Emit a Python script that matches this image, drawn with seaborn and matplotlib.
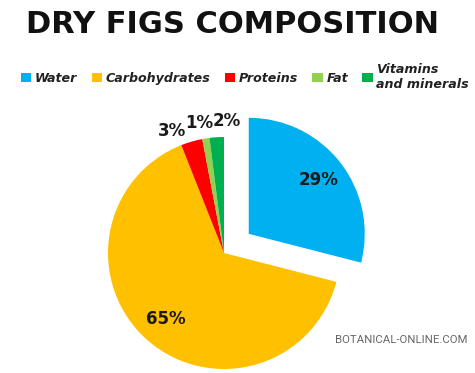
import numpy as np
import matplotlib
matplotlib.use("Agg")
import matplotlib.pyplot as plt
import seaborn as sns

categories = ["Water", "Carbohydrates", "Proteins", "Fat", "Vitamins\nand minerals"]
shares = [29, 65, 3, 1, 2]
colors = ["#00B0F0", "#FFC000", "#FF0000", "#92D050", "#00B050"]
exploded = [0.27, 0, 0, 0, 0]   # fraction of the radius
# small slices get their label outside the pie, nudged apart (degrees)
outside = [False, False, True, True, True]
nudge = [0, 0, 7, 2, -5]

sns.set_theme(style="white")
plt.rcParams["font.family"] = ["DejaVu Sans"]

R = 116
fig = plt.figure(figsize=(4.75, 3.73), dpi=100)
ax = fig.add_axes([0, 0, 1, 1])

wedges, _, autotexts = ax.pie(
    shares, colors=colors, explode=[e * R for e in exploded], startangle=90,
    counterclock=False, center=(224, 120), radius=R, autopct="%1.0f%%",
    pctdistance=0.76,
    textprops=dict(fontsize=12, fontweight="bold", color="#1a1a1a"),
    wedgeprops=dict(linewidth=0),
)
ax.set_xlim(0, 475)
ax.set_ylim(0, 373)
ax.set_aspect("equal")
ax.axis("off")

for w, t, out, dn in zip(wedges, autotexts, outside, nudge):
    if not out:
        continue
    ang = np.deg2rad((w.theta1 + w.theta2) / 2 + dn)
    cx, cy = w.center
    t.set_position((cx + 1.14 * w.r * np.cos(ang), cy + 1.14 * w.r * np.sin(ang)))

fig.text(0.49, 0.935, "DRY FIGS COMPOSITION", ha="center", va="center",
         fontsize=22, fontweight="heavy", color="#111111")

fig.legend(wedges, categories, ncol=5, loc="upper left", bbox_to_anchor=(0.025, 0.855),
           frameon=False, handlelength=0.8, handleheight=0.8, handletextpad=0.3,
           columnspacing=1.15, borderpad=0.2,
           prop=dict(size=9.1, style="italic", weight="bold"),
           labelcolor="#222222")

fig.text(0.985, 0.088, "BOTANICAL-ONLINE.COM", ha="right", va="center",
         fontsize=8.2, color="#666666", family=["Roboto", "DejaVu Sans"])

fig.savefig("out.png", dpi=100)
